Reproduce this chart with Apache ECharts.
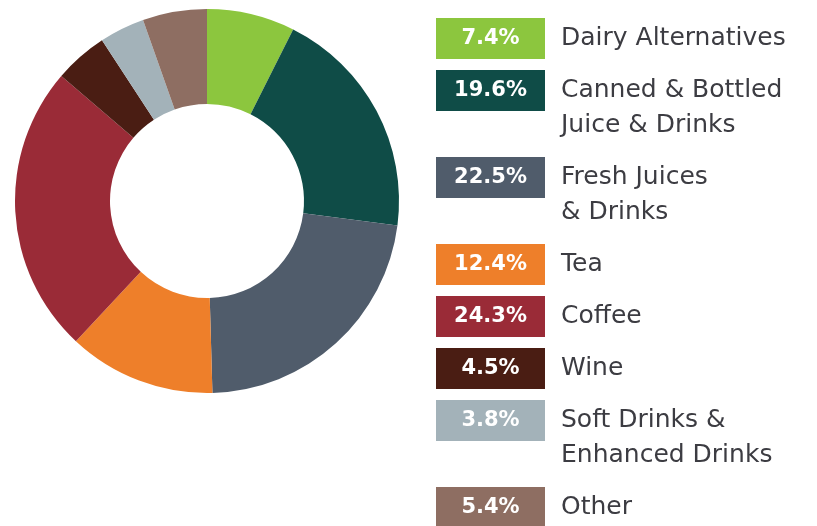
<!DOCTYPE html>
<html><head><meta charset="utf-8">
<script src="https://cdn.jsdelivr.net/npm/echarts@6/dist/echarts.min.js"></script>
<style>html,body{margin:0;padding:0;background:#fff}#c{width:817px;height:526px}</style>
</head><body><div id="c"></div>
<script>
const categories = ["Dairy Alternatives","Canned & Bottled\nJuice & Drinks","Fresh Juices\n& Drinks","Tea","Coffee","Wine","Soft Drinks &\nEnhanced Drinks","Other"];
const values = [7.4, 19.6, 22.5, 12.4, 24.3, 4.5, 3.8, 5.4];
const colors = ["#8cc63e","#0f4c47","#505c6b","#ee7f2a","#9a2b37","#4a1d13","#a3b2b9","#8e6e62"];

const chart = echarts.init(document.getElementById('c'), null, {renderer:'canvas'});
const FONT = '"DejaVu Sans", "Open Sans", sans-serif';
const graphics = [];
let y = 18;
const boxX = 436, boxW = 109, boxH = 41, lineH = 35;
categories.forEach((name, i) => {
  const lines = name.split('\n').length;
  graphics.push({type:'rect', left: boxX, top: y, shape:{width:boxW, height:boxH}, style:{fill:colors[i]}, silent:true});
  graphics.push({type:'text', x: boxX + boxW/2, y: y + boxH/2, style:{text: values[i].toFixed(1) + '%', fill:'#ffffff', font: 'bold 21px ' + FONT, textAlign:'center', textVerticalAlign:'middle'}, silent:true});
  graphics.push({type:'text', x: 561, y: y + boxH/2 - lineH/2, style:{text: name, fill:'#3c3c42', font: 'normal 25px ' + FONT, lineHeight: lineH, textAlign:'left', textVerticalAlign:'top'}, silent:true});
  y += 52 + (lines - 1) * lineH;
});

chart.setOption({
  animation: false,
  color: colors,
  series: [{
    type: 'pie',
    center: [207, 201],
    radius: [97, 192],
    startAngle: 90,
    clockwise: true,
    label: {show:false},
    labelLine: {show:false},
    itemStyle: {borderWidth:0},
    emphasis: {disabled:true},
    data: categories.map((n, i) => ({name: n.replace('\n',' '), value: values[i]}))
  }],
  graphic: graphics
});
</script></body></html>
